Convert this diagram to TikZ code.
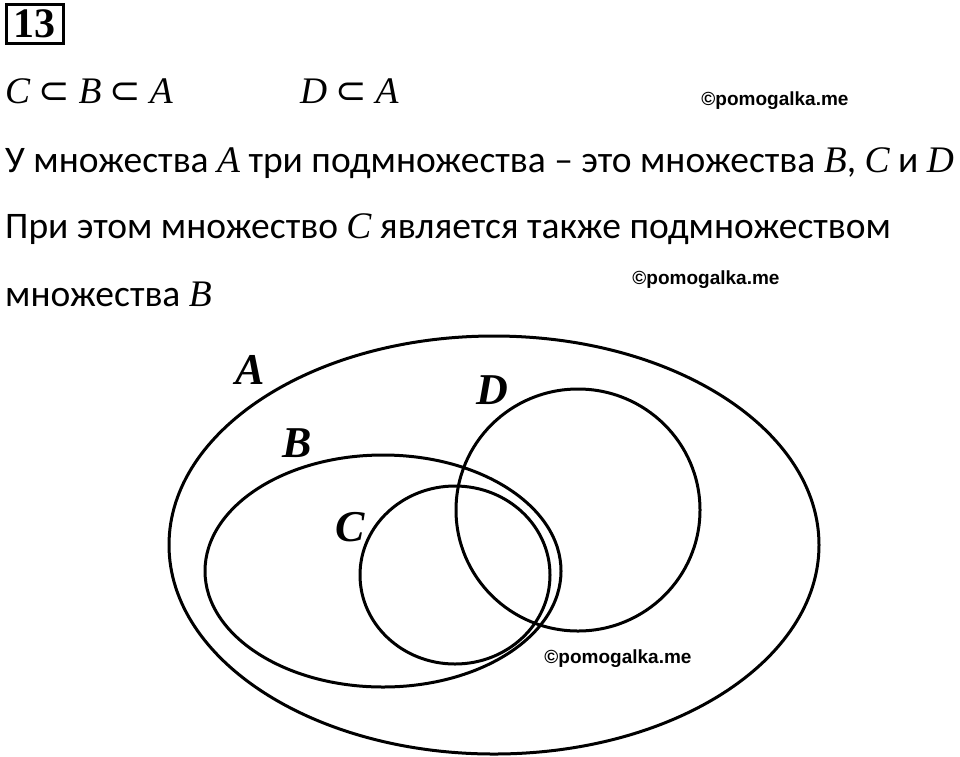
\documentclass[tikz,border=0pt]{standalone}
\usepackage{fontspec}
\setmainfont{Carlito}
\newfontfamily\letterfont{Liberation Serif}
\newfontfamily\markfont{Liberation Sans}
\newfontfamily\relfont{DejaVu Sans}
\usetikzlibrary{positioning}
\newcommand\SetVar[1]{{\letterfont\itshape #1}}
\newcommand\SubRel{{\relfont ⊂}}
\tikzset{
    SetLine/.style={line width=3pt, draw=black},
    SetLabel/.style={font=\fontsize{44}{50}\letterfont\bfseries\itshape, inner sep=0pt},
    BodyText/.style={font=\fontsize{37.5}{44}\selectfont, anchor=base west, inner sep=0pt},
    MarkText/.style={font=\fontsize{19}{22}\markfont\bfseries, inner sep=0pt},
    NumberBox/.style={draw, line width=2.8pt, font=\fontsize{42}{44}\letterfont\bfseries,
        minimum width=57pt, minimum height=39pt, inner sep=0pt, anchor=north west}
}
\begin{document}
\begin{tikzpicture}[x=1pt, y=-1pt]
    \useasboundingbox (0,0) rectangle (960,756);

    \node[NumberBox] (num) at (5,3) {13};

    \node[BodyText] (incl1) at (5,103) {\SetVar{C} \SubRel{} \SetVar{B} \SubRel{} \SetVar{A}};
    \node[BodyText] (incl2) at (300,103) {\SetVar{D} \SubRel{} \SetVar{A}};
    \node[BodyText] (line1) at (5,172) {У множества \SetVar{A} три подмножества -- это множества \SetVar{B}, \SetVar{C} и \SetVar{D}};
    \node[BodyText] (line2) at (5,238) {При этом множество \SetVar{C} является также подмножеством};
    \node[BodyText] (line3) at (5,306) {множества \SetVar{B}};

    % watermarks
    \node[MarkText] (mark1) at (775,101) {©pomogalka.me};
    \node[MarkText] (mark2) at (706,280) {©pomogalka.me};
    \node[MarkText] (mark3) at (618,659) {©pomogalka.me};

    % sets
    \draw[SetLine] (494,545) ellipse [x radius=325pt, y radius=209pt];
    \draw[SetLine] (383,571) ellipse [x radius=178pt, y radius=116pt];
    \draw[SetLine] (455,575) ellipse [x radius=95pt, y radius=89pt];
    \draw[SetLine] (578,510) ellipse [x radius=122pt, y radius=121pt];

    \node[SetLabel] (labA) at (250,370) {A};
    \node[SetLabel] (labB) at (297,443) {B};
    \node[SetLabel] (labC) at (350,527) {C};
    \node[SetLabel] (labD) at (492,390) {D};
\end{tikzpicture}
\end{document}
